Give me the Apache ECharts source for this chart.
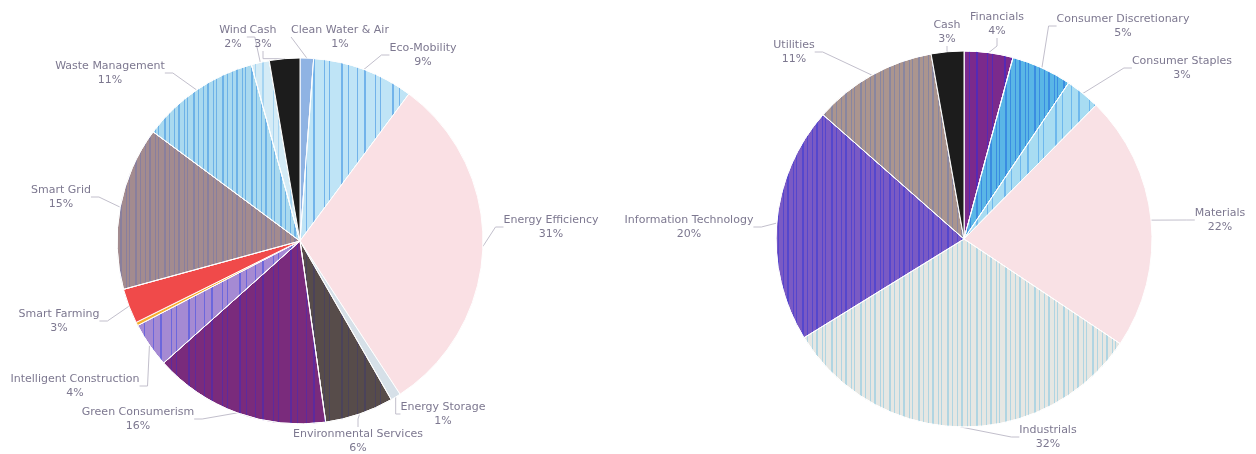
<!DOCTYPE html>
<html lang="en">
<head>
    <meta charset="UTF-8">
    <title>Pie charts</title>
    <script src="https://cdn.jsdelivr.net/npm/echarts@6/dist/echarts.min.js"></script>
    <style>
        * { padding: 0; margin: 0; }
        #main { width: 1256px; height: 454px; background: #fff; }
    </style>
</head>
<body>
<div id="main"></div>
<script>
    // left pie (clockwise from 12 o'clock)
    var leftNames = ['Clean Water & Air', 'Eco-Mobility', 'Energy Efficiency', 'Energy Storage',
        'Environmental Services', 'Green Consumerism', 'Intelligent Construction', '',
        'Smart Farming', 'Smart Grid', 'Waste Management', 'Wind', 'Cash'];
    var leftValues = [1.2, 9.0, 30.8, 0.9, 6.1, 15.7, 4.0, 0.3, 3.1, 14.5, 10.6, 1.6, 2.7];
    var leftColors = ['#8fb3e3', '#bfe4f6', '#fae0e4', '#d6e0e8', '#574c4a', '#7a2b7c', '#a58ad3',
        '#f5b030', '#f04a4a', '#a38b8f', '#a9d9ef', '#d4ebf6', '#1c1c1c'];

    // right pie
    var rightNames = ['Financials', 'Consumer Discretionary', 'Consumer Staples', 'Materials',
        'Industrials', 'Information Technology', 'Utilities', 'Cash'];
    var rightValues = [4.2, 5.2, 3.0, 22.0, 31.8, 20.3, 10.7, 2.8];
    var rightColors = ['#7b2a8c', '#5ab6e6', '#a8dcf2', '#f9e1e5', '#e6e7e3', '#7a5ac4', '#ab958f', '#1c1c1c'];

    // where the label text sits (centre of the text block)
    var leftLabelSpots = [[340, 37], [423, 55], [551, 227], [443, 414], [358, 441], [138, 419], [75, 386],
        null, [59, 321], [61, 197], [110, 73], [233, 37], [263, 37]];
    var rightLabelSpots = [[997, 24], [1123, 26], [1182, 68], [1220, 220], [1048, 437], [689, 227],
        [794, 52], [947, 32]];

    // scanner stripes (vertical lines) per slice, null = plain
    var sparse = [1, 6, 2, 9, 1, 4, 1, 11, 2, 5, 1, 8];
    var dense = [1, 3, 2, 4, 1, 2, 1, 5, 2, 3, 1, 4];
    var stripe = function (c, gaps) {
        return { symbol: 'rect', symbolSize: 1, color: c, rotation: 0,
            dashArrayX: gaps || sparse, dashArrayY: [10, 0] };
    };
    var leftStripes = [null, stripe('rgba(20,120,220,0.45)'), null, null, stripe('rgba(40,40,140,0.25)'),
        stripe('rgba(40,40,220,0.35)'), stripe('rgba(40,60,230,0.45)'), null, null,
        stripe('rgba(60,90,200,0.25)', dense), stripe('rgba(20,120,220,0.4)', dense), stripe('rgba(60,160,230,0.3)'), null];
    var rightStripes = [stripe('rgba(40,40,230,0.45)'), stripe('rgba(20,90,220,0.45)', dense), stripe('rgba(40,140,230,0.45)'), null,
        stripe('rgba(110,190,225,0.45)', dense), stripe('rgba(30,40,220,0.4)', dense), stripe('rgba(60,100,200,0.3)', dense), null];

    function buildData(names, values, colors, stripes) {
        return names.map(function (n, i) {
            var item = { name: n, value: values[i], itemStyle: { color: colors[i] } };
            if (stripes[i]) item.itemStyle.decal = stripes[i];
            if (!n) {
                item.label = { show: false };
                item.labelLine = { show: false };
            }
            return item;
        });
    }

    function placeLabel(spots) {
        return function (p) {
            var s = spots[p.dataIndex];
            if (!s) return {};
            return { x: s[0], y: s[1], align: 'center', verticalAlign: 'middle' };
        };
    }

    var txt = '#7d7890';
    var labelCfg = {
        formatter: function (p) {
            return '{n|' + p.name + '}\n{p|' + Math.round(p.value) + '%}';
        },
        color: txt,
        fontSize: 11,
        fontFamily: 'DejaVu Sans',
        lineHeight: 14,
        overflow: 'none',
        rich: {
            n: { align: 'center', color: txt, fontSize: 11, lineHeight: 14, fontFamily: 'DejaVu Sans' },
            p: { align: 'center', color: txt, fontSize: 11, lineHeight: 14, fontFamily: 'DejaVu Sans' }
        }
    };
    var lineCfg = { length: 8, length2: 8, lineStyle: { color: '#c2bfcc', width: 1 } };

    var chart = echarts.init(document.getElementById('main'));
    chart.setOption({
        backgroundColor: '#ffffff',
        animation: false,
        series: [{
            type: 'pie',
            center: [300, 241],
            radius: 183,
            startAngle: 90,
            itemStyle: { borderColor: '#ffffff', borderWidth: 1 },
            label: labelCfg,
            labelLine: lineCfg,
            labelLayout: placeLabel(leftLabelSpots),
            data: buildData(leftNames, leftValues, leftColors, leftStripes)
        }, {
            type: 'pie',
            center: [964, 239],
            radius: 188,
            startAngle: 90,
            itemStyle: { borderColor: '#ffffff', borderWidth: 1 },
            label: labelCfg,
            labelLine: lineCfg,
            labelLayout: placeLabel(rightLabelSpots),
            data: buildData(rightNames, rightValues, rightColors, rightStripes)
        }]
    });
</script>
</body>
</html>
